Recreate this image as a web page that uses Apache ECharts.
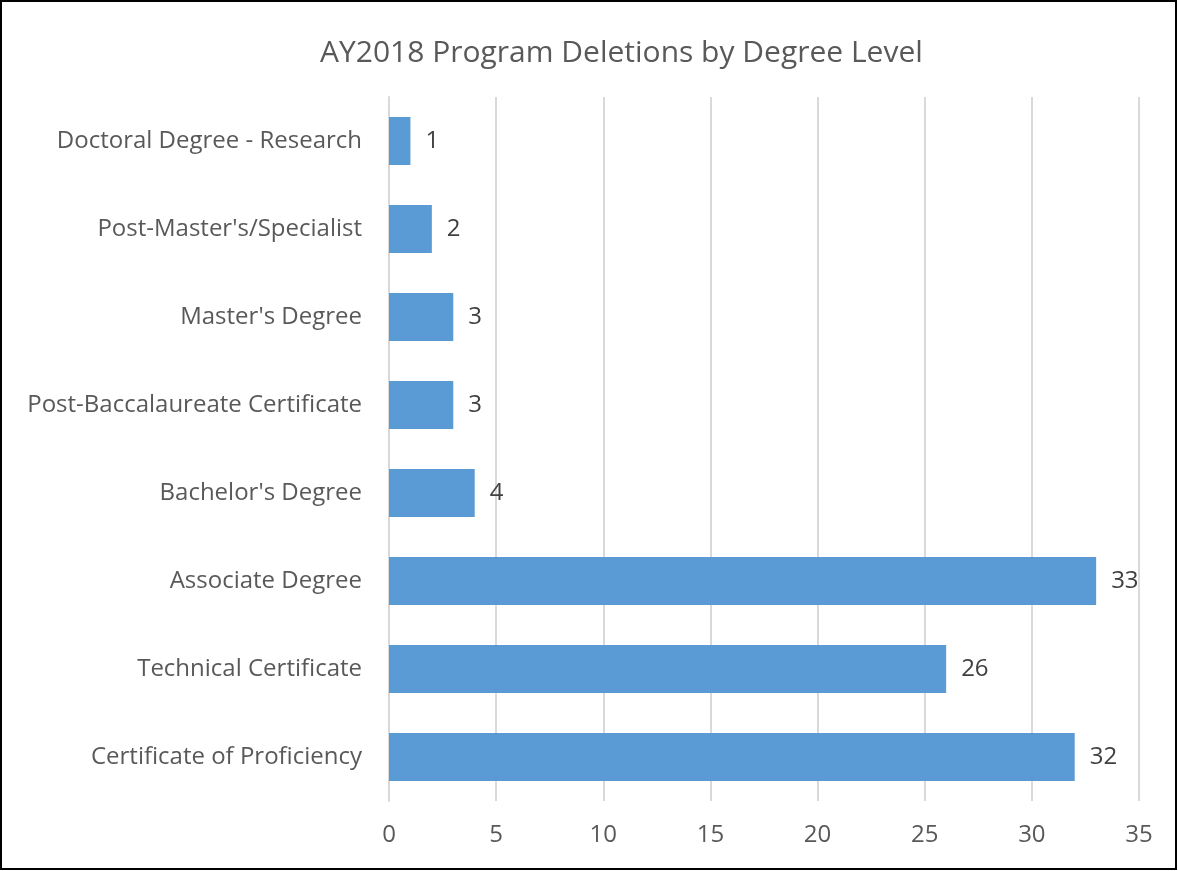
<!DOCTYPE html>
<html><head><meta charset="utf-8">
<script src="https://cdn.jsdelivr.net/npm/echarts@6/dist/echarts.min.js"></script>
<style>html,body{margin:0;padding:0;background:#fff}#c{width:1178px;height:871px}</style>
</head><body><div id="c"></div>
<script>
const titleText = "AY2018 Program Deletions by Degree Level";
const categories = ["Doctoral Degree - Research","Post-Master's/Specialist","Master's Degree","Post-Baccalaureate Certificate","Bachelor's Degree","Associate Degree","Technical Certificate","Certificate of Proficiency"];
const values = [1,2,3,3,4,33,26,32];
const xTicks = [0,5,10,15,20,25,30,35];

const FONT = "Open Sans";
const chart = echarts.init(document.getElementById('c'), null, {renderer:'canvas'});
chart.setOption({
  backgroundColor:'#fff',
  animation:false,
  graphic:[{type:'rect',shape:{x:1,y:1,width:1175,height:868},style:{fill:'none',stroke:'#000',lineWidth:2},z:100}],
  title:{text:titleText,top:38,left:320,padding:0,textStyle:{fontFamily:FONT,fontSize:30,fontWeight:'normal',color:'#595959'}},
  grid:{left:389,right:39,top:97,bottom:70,containLabel:false},
  xAxis:{type:'value',min:xTicks[0],max:xTicks[xTicks.length-1],interval:5,
    axisLine:{show:false},axisTick:{show:false},
    splitLine:{show:true,lineStyle:{color:'#d9d9d9',width:2}},
    axisLabel:{fontFamily:FONT,fontSize:24,color:'#595959',margin:22}},
  yAxis:{type:'category',data:categories,inverse:true,
    axisLine:{show:true,lineStyle:{color:'#d9d9d9',width:2}},axisTick:{show:false},
    axisLabel:{fontFamily:FONT,fontSize:24,color:'#595959',margin:27}},
  series:[{type:'bar',data:values,barWidth:48,itemStyle:{color:'#5b9bd5'},
    label:{show:true,position:'right',distance:15,fontFamily:FONT,fontSize:24,color:'#404040'}}]
});
</script></body></html>
